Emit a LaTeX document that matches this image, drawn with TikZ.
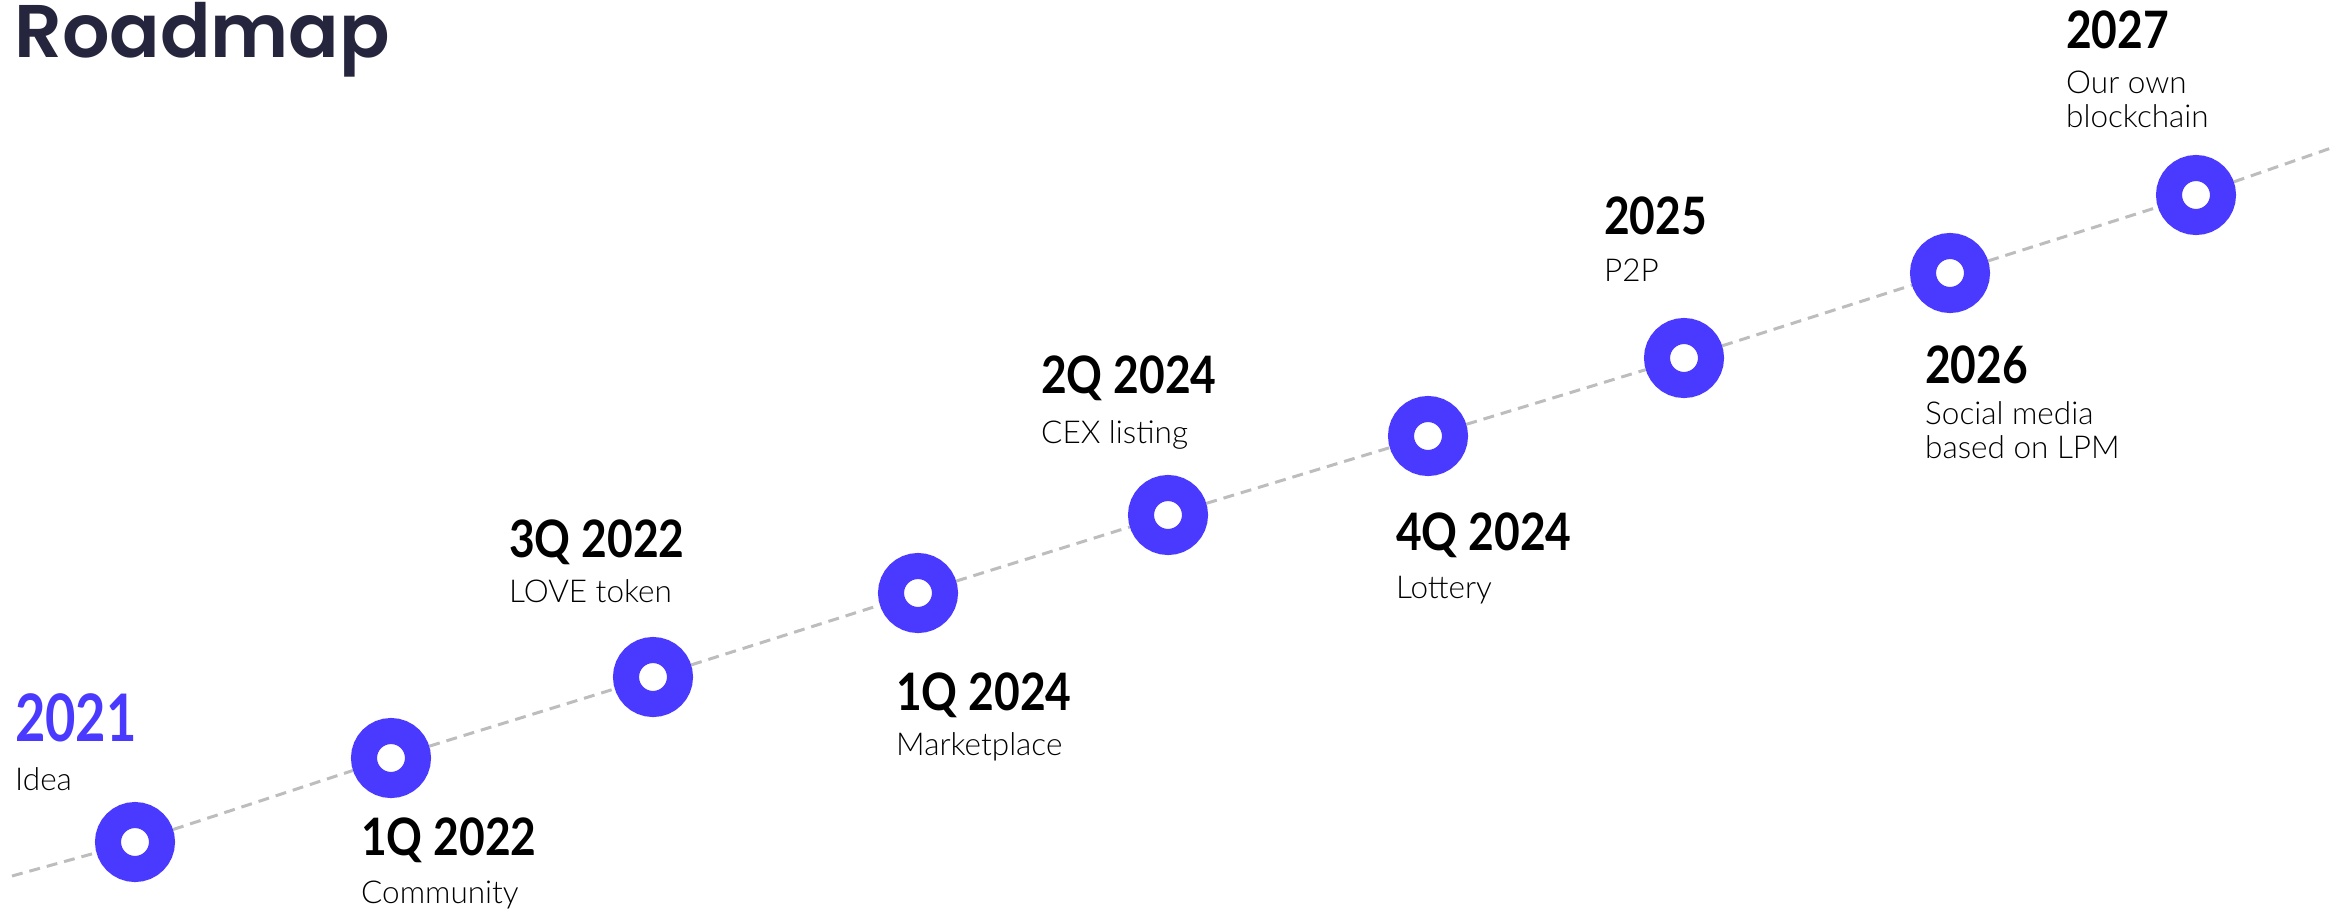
\documentclass[tikz,border=0pt]{standalone}
\usepackage{fontspec}
\setmainfont{Lato}
\newfontfamily\yearfont{Lato}[FakeStretch=0.86]
\newfontfamily\bigyearfont{Lato}[FakeStretch=0.8]
\newfontfamily\descfont{Lato}[UprightFont=* Light]
\newfontfamily\titlefont{Poppins}[UprightFont=* SemiBold]
\usetikzlibrary{backgrounds}
\definecolor{ringblue}{HTML}{4A3AFF}
\definecolor{titlecol}{HTML}{25253D}
\definecolor{linegray}{HTML}{BDBDBD}
\begin{document}
\begin{tikzpicture}[x=1pt,y=-1pt,
  ring/.style={circle, draw=ringblue, line width=26pt, fill=white, minimum size=54pt, inner sep=0pt},
  yearlab/.style={anchor=base west, inner sep=0pt, text=black, font=\yearfont\bfseries\fontsize{51.6}{60}\selectfont},
  bigyearlab/.style={anchor=base west, inner sep=0pt, text=ringblue, font=\bigyearfont\bfseries\fontsize{65.5}{70}\selectfont},
  desclab/.style={anchor=base west, inner sep=0pt, text=black, font=\descfont\fontsize{31.5}{36}\selectfont},
  titlelab/.style={anchor=base west, inner sep=0pt, text=titlecol, font=\titlefont\fontsize{74.6}{80}\selectfont},
  timeline/.style={draw=linegray, line width=3pt, dash pattern=on 11pt off 7pt}
]
\useasboundingbox (0,0) rectangle (2349,911);

\node[titlelab] (title) at (14,57) {Roadmap};

% milestones
\node[ring] (m1) at (135,842) {};
\node[ring] (m2) at (391,758) {};
\node[ring] (m3) at (653,677) {};
\node[ring] (m4) at (918,593) {};
\node[ring] (m5) at (1168,515) {};
\node[ring] (m6) at (1428,436) {};
\node[ring] (m7) at (1684,358) {};
\node[ring] (m8) at (1950,273) {};
\node[ring] (m9) at (2196,195) {};

\coordinate (lstart) at (12,876);
\coordinate (lend) at (2334,147);

\begin{scope}[on background layer]
\draw[timeline] (lstart) -- (m1) -- (m2) -- (m3) -- (m4) -- (m5) -- (m6) -- (m7) -- (m8) -- (m9) -- (lend);
\end{scope}

% labels
\node[bigyearlab] (y1) at (15,741) {2021};
\node[desclab] (d1) at (15,790) {Idea};

\node[yearlab] (y2) at (361,855) {1Q 2022};
\node[desclab] (d2) at (361,903) {Community};

\node[yearlab] (y3) at (509,557) {3Q 2022};
\node[desclab] (d3) at (509,602) {LOVE token};

\node[yearlab] (y4) at (896,710) {1Q 2024};
\node[desclab] (d4) at (896,755) {Marketplace};

\node[yearlab] (y5) at (1041,393) {2Q 2024};
\node[desclab] (d5) at (1041,443) {CEX listing};

\node[yearlab] (y6) at (1396,550) {4Q 2024};
\node[desclab] (d6) at (1396,598) {Lottery};

\node[yearlab] (y7) at (1604,234) {2025};
\node[desclab] (d7) at (1604,281) {P2P};

\node[yearlab] (y8) at (1925,383) {2026};
\node[desclab] (d8a) at (1925,424) {Social media};
\node[desclab] (d8b) at (1925,458) {based on LPM};

\node[yearlab] (y9) at (2066,48) {2027};
\node[desclab] (d9a) at (2066,93) {Our own};
\node[desclab] (d9b) at (2066,127) {blockchain};
\end{tikzpicture}
\end{document}
